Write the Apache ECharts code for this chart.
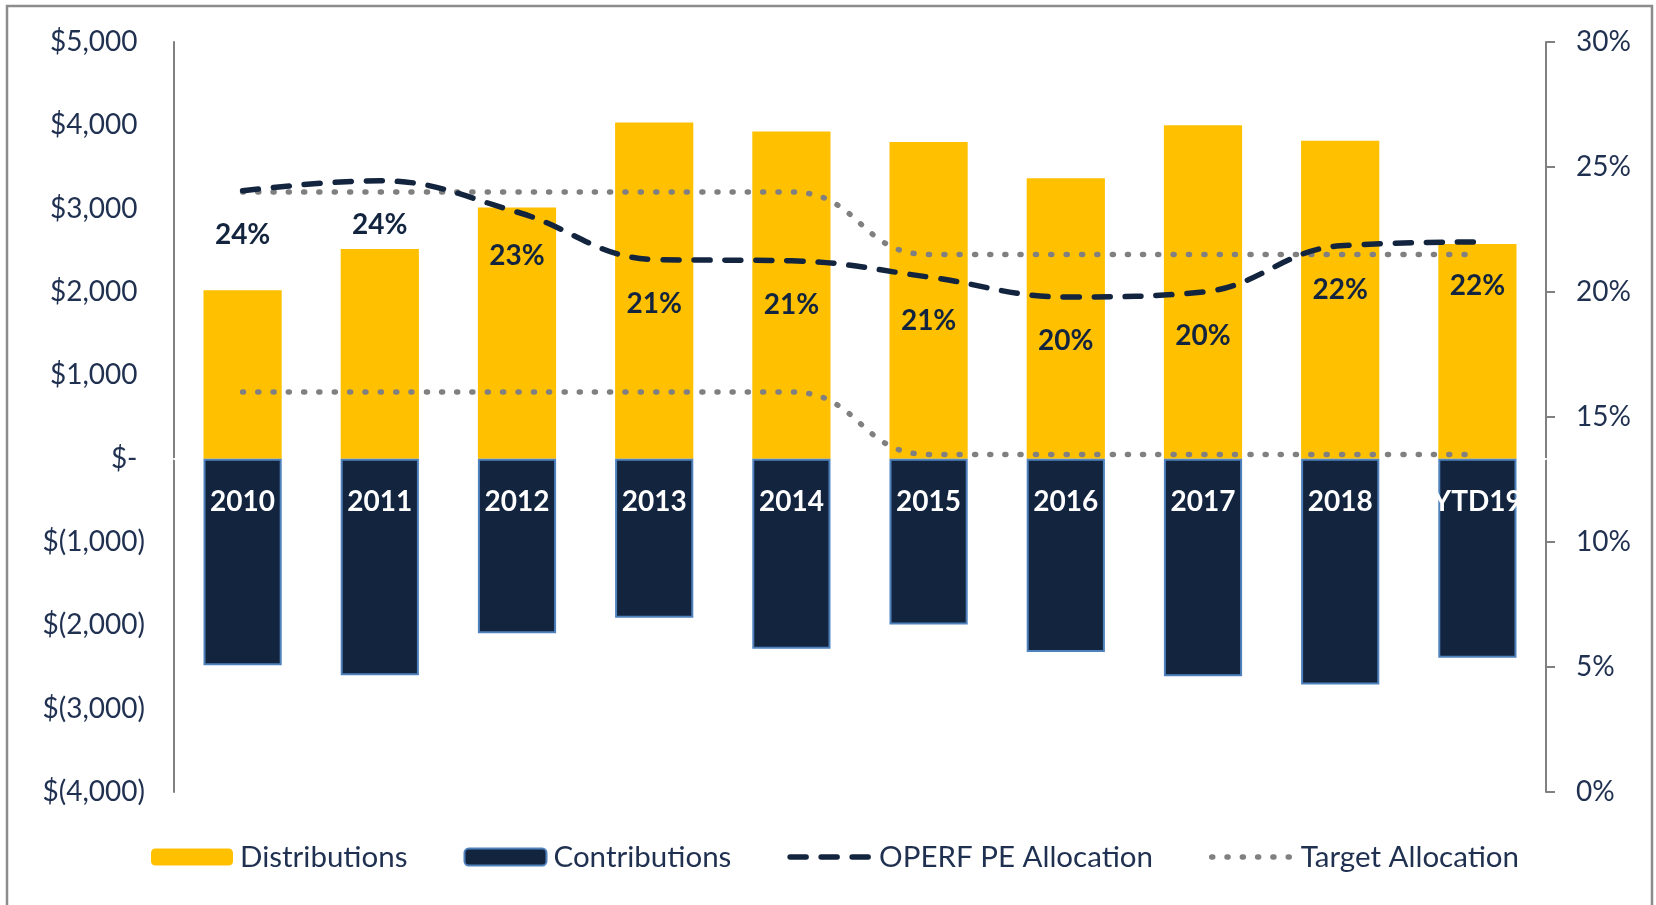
<!DOCTYPE html>
<html>
<head>
<meta charset="utf-8">
<script src="https://cdn.jsdelivr.net/npm/echarts@6/dist/echarts.min.js"></script>
<style>
  html, body { margin: 0; padding: 0; background: #ffffff; }
  #chart { width: 1656px; height: 905px; }
</style>
</head>
<body>
<div id="chart"></div>
<script>
// chart data
var years = ["2010", "2011", "2012", "2013", "2014", "2015", "2016", "2017", "2018", "YTD19"];
var distributions = [2020, 2515, 3015, 4035, 3925, 3800, 3365, 4000, 3815, 2575];
var contributions = [-2480, -2600, -2095, -1910, -2280, -1990, -2320, -2610, -2710, -2390];
var peAllocation = [24.05, 24.45, 23.2, 21.3, 21.25, 20.6, 19.8, 20.0, 21.85, 22.0];
var targetHigh = [24, 24, 24, 24, 24, 21.5, 21.5, 21.5, 21.5, 21.5];
var targetLow = [16, 16, 16, 16, 16, 13.5, 13.5, 13.5, 13.5, 13.5];

var FONT = "Lato, 'Open Sans', sans-serif";
var NAVY = "#13243f";
var GOLD = "#ffc000";
var GREY = "#808080";
var TEXT = "#1f3050";

var dashed = { color: NAVY, width: 5.5, type: [16, 15], cap: "round" };
var dotted = { color: GREY, width: 5.5, type: [1, 14.3], cap: "round" };

function money(v) {
  if (v === 0) return "$-{h|)}";
  if (v < 0) return "$(" + (-v).toLocaleString("en-US") + ")";
  return "$" + v.toLocaleString("en-US") + "{h|)}";
}

var myChart = echarts.init(document.getElementById("chart"));
var options = {
  animation: false,
  textStyle: { fontFamily: FONT },
  graphic: [
    {
      type: "rect",
      shape: { x: 7, y: 6, width: 1645, height: 930 },
      style: { fill: "none", stroke: "#8c8c8c", lineWidth: 2.5 },
      silent: true,
    },
  ],
  grid: { left: 174, right: 110, top: 42, bottom: 113 },
  legend: {
    left: 151,
    top: 842,
    padding: 0,
    itemWidth: 82,
    itemHeight: 17,
    itemGap: 56,
    textStyle: { fontSize: 29.5, color: TEXT, fontFamily: FONT, padding: [0, 0, 0, 2] },
    data: [
      "Distributions",
      "Contributions",
      { name: "OPERF PE Allocation", itemStyle: { opacity: 0 }, lineStyle: dashed },
      { name: "Target Allocation", itemStyle: { opacity: 0 }, lineStyle: dotted },
    ],
  },
  xAxis: {
    type: "category",
    data: years,
    axisLine: { show: true, onZero: true, onZeroAxisIndex: 0, lineStyle: { color: "#ffffff", width: 2 } },
    axisTick: { show: false },
    axisLabel: { show: false },
  },
  yAxis: [
    {
      type: "value",
      min: -4000,
      max: 5000,
      interval: 1000,
      axisLine: { show: true, lineStyle: { color: GREY, width: 2 } },
      axisTick: { show: false },
      splitLine: { show: false },
      axisLabel: {
        formatter: money,
        color: TEXT,
        fontSize: 28,
        fontFamily: FONT,
        margin: 29,
        rich: { h: { color: "rgba(0,0,0,0)", fontSize: 28, fontFamily: FONT } },
      },
    },
    {
      type: "value",
      position: "right",
      min: 0,
      max: 30,
      interval: 5,
      axisLine: { show: true, lineStyle: { color: GREY, width: 2 } },
      axisTick: { show: true, length: 9, lineStyle: { color: GREY, width: 2 } },
      splitLine: { show: false },
      axisLabel: {
        formatter: "{value}%",
        color: TEXT,
        fontSize: 28,
        fontFamily: FONT,
        margin: 30,
      },
    },
  ],
  series: [
    {
      name: "Distributions",
      type: "bar",
      stack: "flows",
      barWidth: "57%",
      data: distributions,
      itemStyle: { color: GOLD },
    },
    {
      name: "Contributions",
      type: "bar",
      stack: "flows",
      barWidth: "57%",
      data: contributions,
      itemStyle: { color: NAVY, borderColor: "#4f81bd", borderWidth: 2 },
      label: {
        show: true,
        position: "insideTop",
        distance: 29,
        formatter: "{b}",
        color: "#ffffff",
        fontWeight: "bold",
        fontSize: 28,
        fontFamily: FONT,
      },
    },
    {
      name: "Target Allocation",
      type: "line",
      yAxisIndex: 1,
      data: targetHigh,
      smooth: 0.5,
      smoothMonotone: "x",
      symbol: "none",
      lineStyle: dotted,
      itemStyle: { color: GREY },
    },
    {
      name: "Target Allocation",
      type: "line",
      yAxisIndex: 1,
      data: targetLow,
      smooth: 0.5,
      smoothMonotone: "x",
      symbol: "none",
      lineStyle: dotted,
      itemStyle: { color: GREY },
    },
    {
      name: "OPERF PE Allocation",
      type: "line",
      yAxisIndex: 1,
      data: peAllocation,
      smooth: 0.4,
      symbol: "circle",
      symbolSize: 0.1,
      showSymbol: true,
      lineStyle: dashed,
      itemStyle: { color: NAVY },
      label: {
        show: true,
        position: "bottom",
        distance: 30,
        fontSize: 28,
        fontWeight: "bold",
        fontFamily: FONT,
        color: NAVY,
        formatter: function (p) {
          return Math.round(p.value) + "%";
        },
      },
    },
  ],
};
myChart.setOption(options);
</script>
</body>
</html>
